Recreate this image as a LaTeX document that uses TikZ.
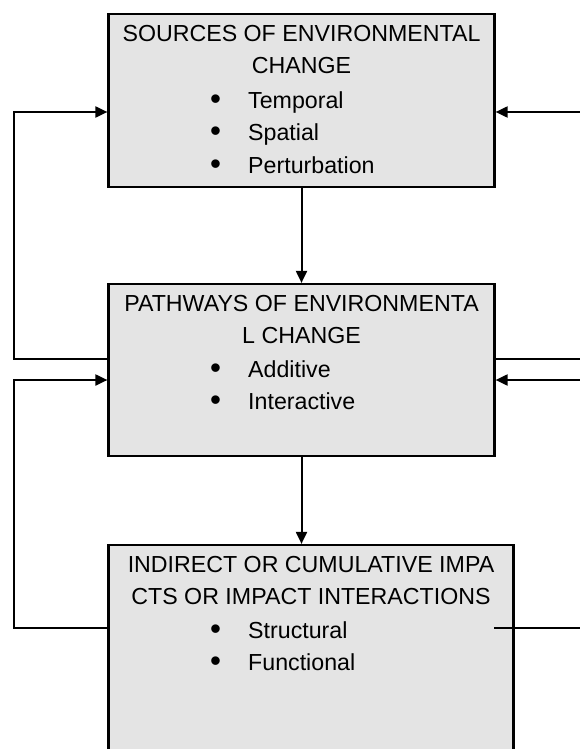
\documentclass[tikz,border=0pt]{standalone}
\usepackage{fontspec}
\setmainfont{Liberation Sans}
\usetikzlibrary{arrows.meta}

\definecolor{boxgray}{HTML}{E4E4E4}
\def\boxwidth{386pt}
\def\textsize{\fontsize{23.2}{32.5}\selectfont}
\newcommand{\itm}[1]{\makebox[38pt][l]{\raisebox{-1pt}{\scalebox{1.35}{\textbullet}}}#1}

\tikzset{
  stagebox/.style={rectangle, draw=black, line width=2.2pt, fill=boxgray,
    minimum width=\boxwidth, inner sep=0pt},
  titletext/.style={anchor=north, align=center, inner sep=0pt, font=\textsize},
  itemtext/.style={anchor=north west, align=left, inner sep=0pt, font=\textsize},
  link/.style={line width=2pt},
  arr/.style={link, -{Triangle[length=12pt, width=11pt]}},
}

\begin{document}
\begin{tikzpicture}[x=1pt, y=-1pt]
  \useasboundingbox (0,0) rectangle (580,749);
  \clip (0,0) rectangle (580,749);

  % the three stages
  \node [stagebox, minimum height=173pt] (sources) at (301.5,100.5) {};
  \node [titletext] (sourcesT) at ([yshift=-12pt]sources.north) {SOURCES OF ENVIRONMENTAL\\CHANGE};
  \node [itemtext] (sourcesL) at (210,91) {\itm{Temporal}\\\itm{Spatial}\\\itm{Perturbation}};

  \node [stagebox, minimum height=172pt] (pathways) at (301.5,370) {};
  \node [titletext] (pathwaysT) at ([yshift=-12pt]pathways.north) {PATHWAYS OF ENVIRONMENTA\\L CHANGE};
  \node [itemtext] (pathwaysL) at (210,360) {\itm{Additive}\\\itm{Interactive}};

  \node [stagebox, minimum width=405pt, minimum height=230pt] (impacts) at (311,660) {};
  \node [titletext] (impactsT) at ([yshift=-12pt]impacts.north) {INDIRECT OR CUMULATIVE IMPA\\CTS OR IMPACT INTERACTIONS};
  \node [itemtext] (impactsL) at (210,621) {\itm{Structural}\\\itm{Functional}};

  \draw [arr] (sources.south) -- (pathways.north);
  \draw [arr] (pathways.south) -- (pathways.south |- impacts.north);

  % feedback, left side
  \coordinate (leftTop) at (14,112);
  \coordinate (leftMid) at (14,359);
  \coordinate (leftIn) at (14,380);
  \coordinate (leftBot) at (14,628);
  \draw [arr] (pathways.west |- leftMid) -- (leftMid) -- (leftTop) -- (sources.west |- leftTop);
  \draw [arr] (impacts.west |- leftBot) -- (leftBot) -- (leftIn) -- (pathways.west |- leftIn);

  % feedback, right side (runs off the page)
  \coordinate (rightTop) at (580,112);
  \coordinate (rightMid) at (580,359);
  \coordinate (rightIn) at (580,380);
  \coordinate (rightBot) at (580,628);
  \coordinate (impactsStub) at (494,628);
  \draw [arr] (rightTop) -- (sources.east |- rightTop);
  \draw [link] (pathways.east |- rightMid) -- (rightMid);
  \draw [arr] (rightIn) -- (pathways.east |- rightIn);
  \draw [link] (impactsStub) -- (rightBot);

\end{tikzpicture}
\end{document}
